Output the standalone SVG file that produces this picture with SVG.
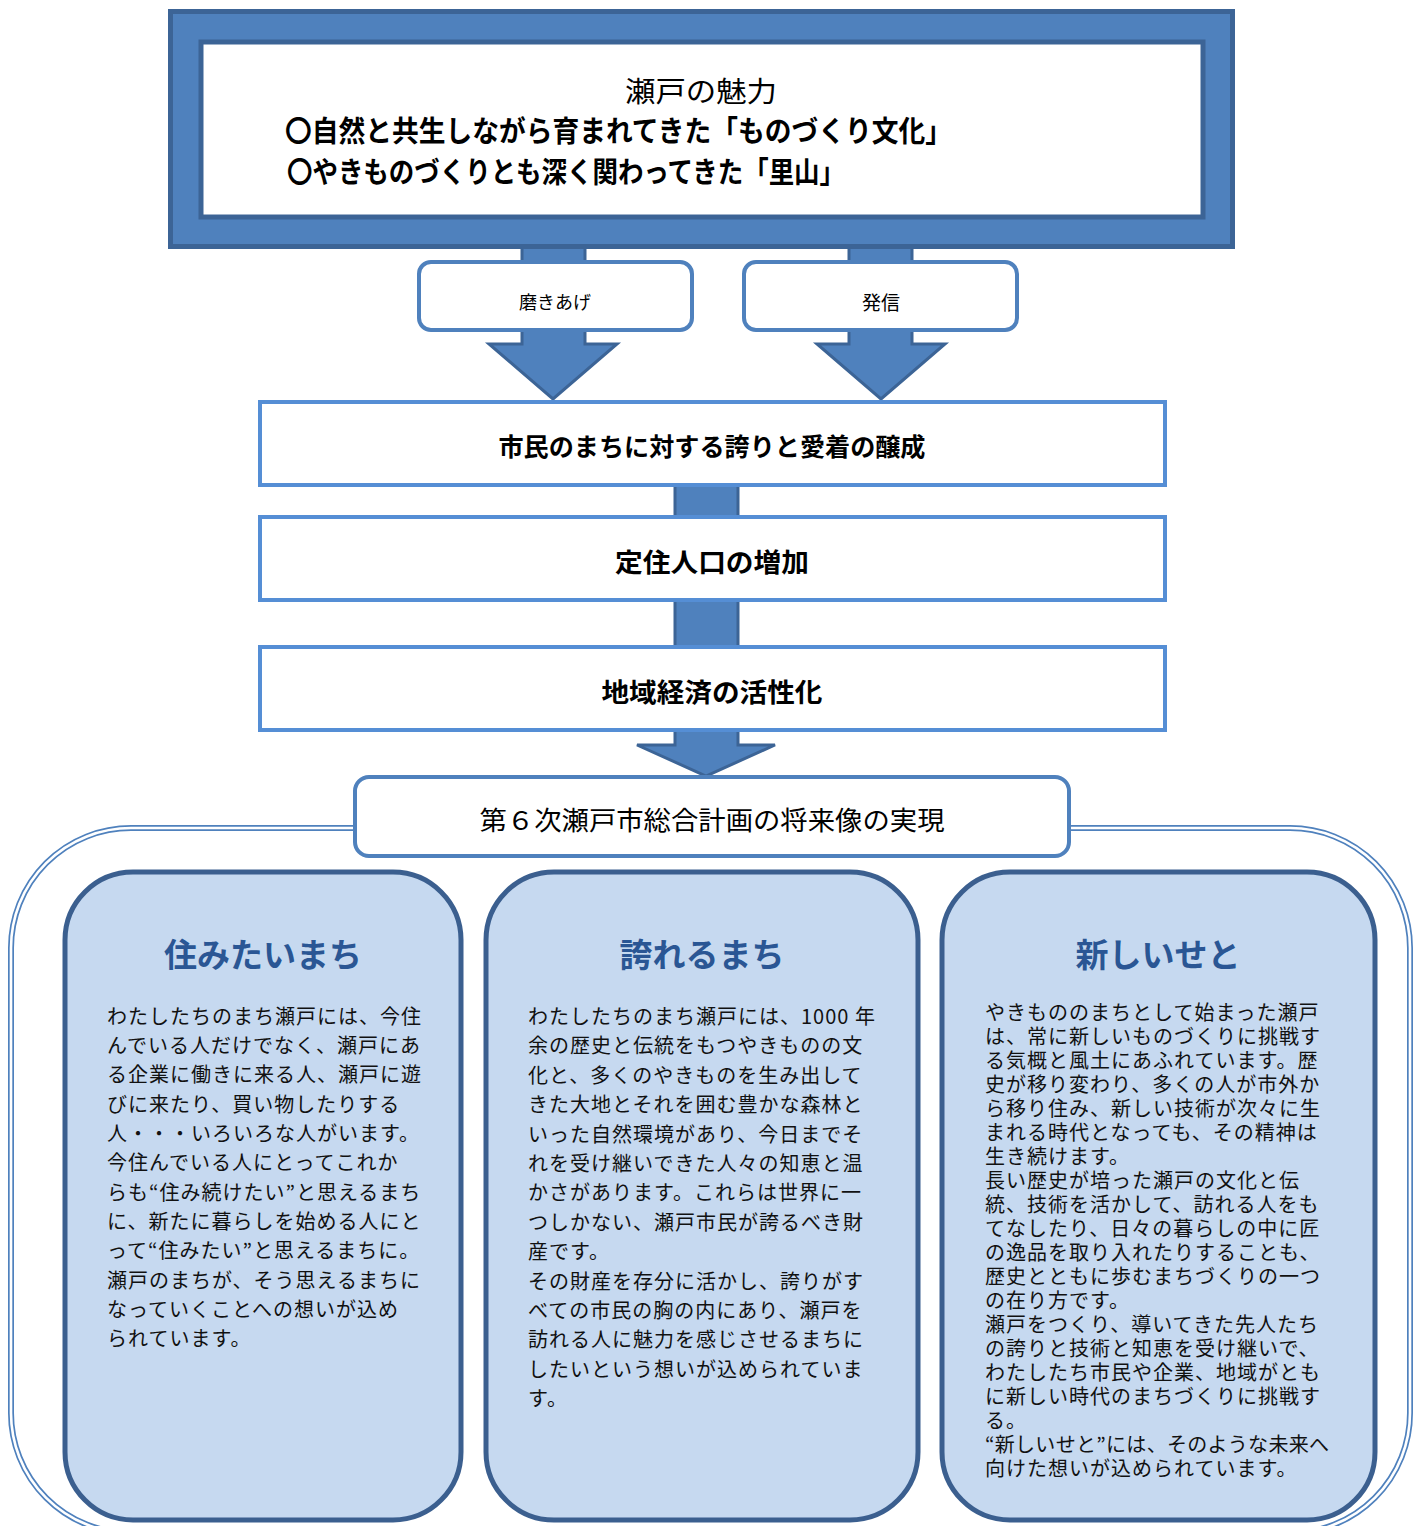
<svg xmlns="http://www.w3.org/2000/svg" width="1422" height="1526" viewBox="0 0 1422 1526">
<defs>
<style>
.jp{font-family:"Noto Sans CJK JP","Noto Sans",sans-serif;fill:#000}
.c{text-anchor:middle;dominant-baseline:central}
.b{font-weight:bold}
.body{font-family:"Noto Sans CJK JP","Noto Sans",sans-serif;font-size:20px;letter-spacing:1px;fill:#111;dominant-baseline:central}
.title{font-family:"Noto Sans CJK JP","Noto Sans",sans-serif;font-size:33px;font-weight:bold;fill:#2a5694;text-anchor:middle;dominant-baseline:central}
.box{fill:#fff;stroke:#558ed5;stroke-width:4}
.lbl{fill:#fff;stroke:#4f81bd;stroke-width:4}
.panel{fill:#c6d9f0;stroke:#3b5f8f;stroke-width:5}
.arr{fill:#4f81bd;stroke:#3c6496;stroke-width:3;stroke-linejoin:miter}
</style>
</defs>
<rect width="1422" height="1526" fill="#fff"/>

<g id="outer-border">
<rect x="11" y="828" width="1399" height="705" rx="120" fill="none" stroke="#4f81bd" stroke-width="6"/>
<rect x="11" y="828" width="1399" height="705" rx="120" fill="none" stroke="#fff" stroke-width="2.6"/>
</g>

<g id="connectors">
<polygon class="arr" points="522,246 585,246 585,344 617,344 553,399 489,344 522,344"/>
<polygon class="arr" points="849,246 912,246 912,344 945,344 881,399 817,344 849,344"/>
<polygon class="arr" points="675,480 738,480 738,745 775,745 706,776 637,745 675,745"/>
</g>

<g id="node-miryoku">
<rect x="170.5" y="11.5" width="1062" height="235" fill="#4f81bd" stroke="#3c6496" stroke-width="5"/>
<rect x="201" y="42" width="1002" height="175" fill="#fff" stroke="#3c6496" stroke-width="5"/>
<text class="jp c" x="701" y="90" font-size="28" textLength="152" lengthAdjust="spacingAndGlyphs">瀬戸の魅力</text>
<text class="jp b" x="285" y="129" font-size="29" dominant-baseline="central" textLength="667" lengthAdjust="spacingAndGlyphs">〇自然と共生しながら育まれてきた「ものづくり文化」</text>
<text class="jp b" x="287" y="170" font-size="29" dominant-baseline="central" textLength="558" lengthAdjust="spacingAndGlyphs">〇やきものづくりとも深く関わってきた「里山」</text>
</g>

<g id="label-migaki">
<rect class="lbl" x="419" y="262" width="273" height="68" rx="12"/>
<text class="jp c" x="555" y="301" font-size="18">磨きあげ</text>
</g>
<g id="label-hasshin">
<rect class="lbl" x="744" y="262" width="273" height="68" rx="12"/>
<text class="jp c" x="881" y="301" font-size="19">発信</text>
</g>

<g id="node-jousei">
<rect class="box" x="260" y="402" width="905" height="83"/>
<text class="jp c b" x="712" y="445" font-size="25" textLength="427" lengthAdjust="spacingAndGlyphs">市民のまちに対する誇りと愛着の醸成</text>
</g>
<g id="node-teijuu">
<rect class="box" x="260" y="517" width="905" height="83"/>
<text class="jp c b" x="712" y="560" font-size="26" textLength="194" lengthAdjust="spacingAndGlyphs">定住人口の増加</text>
</g>
<g id="node-keizai">
<rect class="box" x="260" y="647" width="905" height="83"/>
<text class="jp c b" x="712" y="690" font-size="26" textLength="221" lengthAdjust="spacingAndGlyphs">地域経済の活性化</text>
</g>

<g id="node-jitsugen">
<rect class="lbl" x="355" y="777" width="714" height="79" rx="14"/>
<text class="jp c" x="712" y="818" font-size="26" textLength="465" lengthAdjust="spacingAndGlyphs">第６次瀬戸市総合計画の将来像の実現</text>
</g>

<g id="panel-sumitai">
<rect class="panel" x="65" y="872" width="396" height="648" rx="68"/>
<text class="title" x="263" y="953">住みたいまち</text>
<text class="body">
<tspan x="107" y="1015">わたしたちのまち瀬戸には、今住</tspan>
<tspan x="107" y="1044">んでいる人だけでなく、瀬戸にあ</tspan>
<tspan x="107" y="1073">る企業に働きに来る人、瀬戸に遊</tspan>
<tspan x="107" y="1103">びに来たり、買い物したりする</tspan>
<tspan x="107" y="1132">人・・・いろいろな人がいます。</tspan>
<tspan x="107" y="1161">今住んでいる人にとってこれか</tspan>
<tspan x="107" y="1191">らも“住み続けたい”と思えるまち</tspan>
<tspan x="107" y="1220">に、新たに暮らしを始める人にと</tspan>
<tspan x="107" y="1249">って“住みたい”と思えるまちに。</tspan>
<tspan x="107" y="1279">瀬戸のまちが、そう思えるまちに</tspan>
<tspan x="107" y="1308">なっていくことへの想いが込め</tspan>
<tspan x="107" y="1337">られています。</tspan>
</text>
</g>

<g id="panel-hokoreru">
<rect class="panel" x="486" y="872" width="432" height="648" rx="68"/>
<text class="title" x="702" y="953">誇れるまち</text>
<text class="body">
<tspan x="528" y="1015">わたしたちのまち瀬戸には、1000 年</tspan>
<tspan x="528" y="1044">余の歴史と伝統をもつやきものの文</tspan>
<tspan x="528" y="1074">化と、多くのやきものを生み出して</tspan>
<tspan x="528" y="1103">きた大地とそれを囲む豊かな森林と</tspan>
<tspan x="528" y="1133">いった自然環境があり、今日までそ</tspan>
<tspan x="528" y="1162">れを受け継いできた人々の知恵と温</tspan>
<tspan x="528" y="1191">かさがあります。これらは世界に一</tspan>
<tspan x="528" y="1221">つしかない、瀬戸市民が誇るべき財</tspan>
<tspan x="528" y="1250">産です。</tspan>
<tspan x="528" y="1280">その財産を存分に活かし、誇りがす</tspan>
<tspan x="528" y="1309">べての市民の胸の内にあり、瀬戸を</tspan>
<tspan x="528" y="1338">訪れる人に魅力を感じさせるまちに</tspan>
<tspan x="528" y="1368">したいという想いが込められていま</tspan>
<tspan x="528" y="1397">す。</tspan>
</text>
</g>

<g id="panel-atarashii">
<rect class="panel" x="942" y="872" width="433" height="648" rx="68"/>
<text class="title" x="1158" y="953">新しいせと</text>
<text class="body" letter-spacing="1.1">
<tspan x="985" y="1011">やきもののまちとして始まった瀬戸</tspan>
<tspan x="985" y="1035">は、常に新しいものづくりに挑戦す</tspan>
<tspan x="985" y="1059">る気概と風土にあふれています。歴</tspan>
<tspan x="985" y="1083">史が移り変わり、多くの人が市外か</tspan>
<tspan x="985" y="1107">ら移り住み、新しい技術が次々に生</tspan>
<tspan x="985" y="1131">まれる時代となっても、その精神は</tspan>
<tspan x="985" y="1155">生き続けます。</tspan>
<tspan x="985" y="1179">長い歴史が培った瀬戸の文化と伝</tspan>
<tspan x="985" y="1203">統、技術を活かして、訪れる人をも</tspan>
<tspan x="985" y="1227">てなしたり、日々の暮らしの中に匠</tspan>
<tspan x="985" y="1251">の逸品を取り入れたりすることも、</tspan>
<tspan x="985" y="1275">歴史とともに歩むまちづくりの一つ</tspan>
<tspan x="985" y="1299">の在り方です。</tspan>
<tspan x="985" y="1323">瀬戸をつくり、導いてきた先人たち</tspan>
<tspan x="985" y="1347">の誇りと技術と知恵を受け継いで、</tspan>
<tspan x="985" y="1371">わたしたち市民や企業、地域がとも</tspan>
<tspan x="985" y="1395">に新しい時代のまちづくりに挑戦す</tspan>
<tspan x="985" y="1419">る。</tspan>
</text>
<text class="body" x="985" y="1443" textLength="345" lengthAdjust="spacing">“新しいせと”には、そのような未来へ</text>
<text class="body" letter-spacing="1.1" x="985" y="1467">向けた想いが込められています。</text>
</g>
</svg>
